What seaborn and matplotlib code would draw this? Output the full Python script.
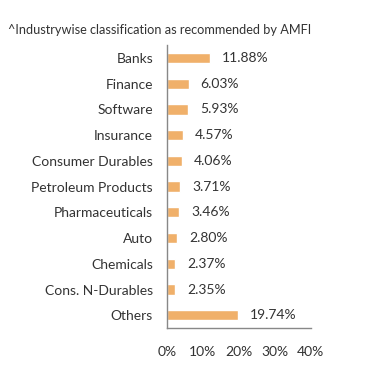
import numpy as np
import pandas as pd
import seaborn as sns
import matplotlib.pyplot as plt
from matplotlib.ticker import FixedLocator

# Industry allocation (%)
industries = ["Banks", "Finance", "Software", "Insurance", "Consumer Durables",
              "Petroleum Products", "Pharmaceuticals", "Auto", "Chemicals",
              "Cons. N-Durables", "Others"]
weights = [11.88, 6.03, 5.93, 4.57, 4.06, 3.71, 3.46, 2.80, 2.37, 2.35, 19.74]
x_ticks = [0, 10, 20, 30, 40]

df = pd.DataFrame({"industry": industries, "weight": weights})

sns.set_style("white")
plt.rcParams["font.family"] = ["Lato", "DejaVu Sans"]
text_col = "#333333"
axis_col = "#888888"

fig = plt.figure(figsize=(3.91, 3.82), dpi=100)
ax = fig.add_axes([0.427, 0.141, 0.368, 0.741])

sns.barplot(data=df, x="weight", y="industry", orient="h", color="#F0B06A",
            saturation=1, width=0.4, ax=ax)

for i, v in enumerate(weights):
    ax.text(v + 3.3, i, f"{v:.2f}%", va="center", ha="left",
            fontsize=10, color=text_col)

ax.set_xlim(0, 40)
ax.set_ylim(len(industries) - 0.5, -0.5)
ax.set_xticks(x_ticks)
ax.set_xticklabels([f"{t}%" for t in x_ticks], fontsize=10, color=text_col)
ax.set_yticks(range(len(industries)))
ax.set_yticklabels(industries, fontsize=10, color=text_col)
ax.yaxis.set_minor_locator(FixedLocator(np.arange(-0.5, len(industries), 1)))
ax.tick_params(axis="y", which="major", length=0, pad=10)
ax.tick_params(axis="y", which="minor", length=5, width=1, color=axis_col, direction="out")
ax.tick_params(axis="x", length=4, width=1, color=axis_col, direction="out", pad=9)
ax.set_xlabel("")
ax.set_ylabel("")

for s in ["top", "right"]:
    ax.spines[s].set_visible(False)
for s in ["left", "bottom"]:
    ax.spines[s].set_color(axis_col)
    ax.spines[s].set_linewidth(1)

fig.text(0.02, 0.922, "^Industrywise classification as recommended by AMFI",
         fontsize=9.2, color=text_col, ha="left", va="center")

fig.savefig("out.png", dpi=100)
